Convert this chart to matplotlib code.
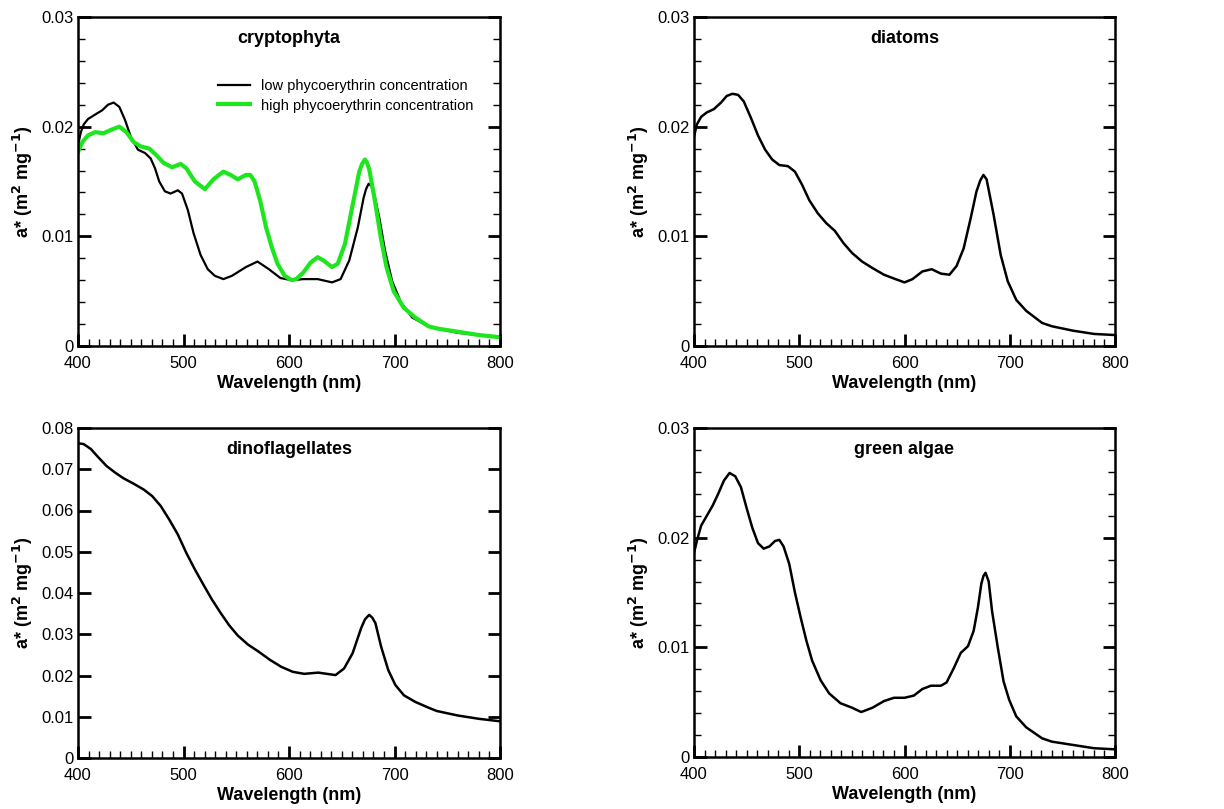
import matplotlib
matplotlib.use("Agg")
import matplotlib.pyplot as plt
from matplotlib.ticker import MultipleLocator, FuncFormatter

plt.rcParams["font.family"] = ["Liberation Sans", "DejaVu Sans"]
plt.rcParams["mathtext.default"] = "bf"

# ---------- data ----------

crypto_low_wl = [400, 402.7, 405.4, 409.5, 416.2, 423.0, 428.4, 433.8, 439.2, 444.6, 450,
                 456.8, 463.5, 468.9, 473.0, 477.0, 482.4, 487.8, 494.6, 498.6, 504.1,
                 509.5, 516.2, 523.0, 529.7, 537.8, 545.9, 559.2, 570.1, 581.0, 591.8,
                 602.7, 613.6, 627.2, 640.8, 648.9, 657.1, 665.2, 670.7, 673.0, 675.5,
                 678.0, 680.2, 685.6, 691.0, 697.8, 706.0, 716.8, 732.1, 740, 760, 780, 800]
crypto_low = [0.0183, 0.0195, 0.0202, 0.0207, 0.0211, 0.0215, 0.0220, 0.0222, 0.0218, 0.0206,
              0.0191, 0.0179, 0.0176, 0.0171, 0.0162, 0.0150, 0.0141, 0.0139, 0.0142, 0.0139,
              0.0124, 0.0103, 0.0083, 0.0070, 0.0064, 0.0061, 0.0064, 0.0072, 0.0077, 0.0070,
              0.0062, 0.0060, 0.0061, 0.0061, 0.0058, 0.0061, 0.0078, 0.0108, 0.0135, 0.0143,
              0.0148, 0.0146, 0.0141, 0.0117, 0.0087, 0.0059, 0.0040, 0.0026, 0.0018, 0.0016,
              0.0012, 0.0010, 0.0008]

crypto_high_wl = [400, 404.1, 409.5, 416.2, 424.3, 431.1, 439.2, 445.9, 452.7, 459.5, 467.6,
                  474.3, 481.1, 489.2, 497.3, 502.7, 510.8, 520.3, 528.4, 537.8, 544.6,
                  551.4, 559.2, 563.3, 567.4, 572.8, 578.3, 583.7, 589.1, 595.9, 602.7,
                  606.8, 613.6, 620.4, 627.2, 632.6, 640.8, 646.2, 653.0, 659.8, 666.6,
                  669.3, 672.0, 674.0, 676.1, 681.5, 687.0, 692.4, 699.2, 708.7, 719.6,
                  732.1, 740, 760, 780, 800]
crypto_high = [0.0177, 0.0186, 0.0192, 0.0195, 0.0194, 0.0197, 0.0200, 0.0195, 0.0186, 0.0182,
               0.0180, 0.0174, 0.0167, 0.0163, 0.0166, 0.0162, 0.0150, 0.0143, 0.0152, 0.0159,
               0.0156, 0.0152, 0.0156, 0.0156, 0.0150, 0.0132, 0.0108, 0.0090, 0.0075, 0.0064,
               0.0060, 0.0061, 0.0067, 0.0076, 0.0081, 0.0078, 0.0072, 0.0075, 0.0093, 0.0126,
               0.0159, 0.0166, 0.0170, 0.0167, 0.0161, 0.0132, 0.0099, 0.0072, 0.0050, 0.0035,
               0.0026, 0.0018, 0.0016, 0.0013, 0.0010, 0.0008]

diatom_wl = [400, 402.7, 406.8, 412.2, 418.9, 425.7, 431.1, 436.5, 441.9, 447.3, 454.1,
             460.8, 467.6, 474.3, 481.1, 489.2, 495.9, 502.7, 509.5, 517.6, 525.7, 533.8,
             541.9, 550, 559.7, 569.7, 580.5, 591.4, 600, 607.6, 617.0, 625.9, 634.6, 642.7,
             649.5, 656.2, 663.0, 668.4, 672, 675, 678, 684.6, 691.4, 698.1, 706.2, 715.7,
             730.8, 740, 760, 780, 800]
diatom = [0.0191, 0.0202, 0.0209, 0.0213, 0.0216, 0.0222, 0.0228, 0.0230, 0.0229, 0.0223,
          0.0208, 0.0192, 0.0179, 0.0170, 0.0165, 0.0164, 0.0159, 0.0147, 0.0133, 0.0121,
          0.0112, 0.0105, 0.0094, 0.0085, 0.0077, 0.0071, 0.0065, 0.0061, 0.0058, 0.0061,
          0.0068, 0.0070, 0.0066, 0.0065, 0.0073, 0.0089, 0.0117, 0.0141, 0.0151, 0.0156,
          0.0152, 0.0120, 0.0083, 0.0059, 0.0042, 0.0032, 0.0021, 0.0018, 0.0014, 0.0011,
          0.0010]

dino_wl = [400, 405.4, 412.2, 418.9, 427.0, 435.1, 443.2, 452.7, 462.2, 470.3, 478.4, 486.5,
           494.6, 502.7, 510.8, 518.9, 527.0, 535.1, 543.2, 551.4, 561.1, 571.1, 581.9,
           592.7, 603.5, 614.3, 627.8, 635.9, 644.1, 652.2, 660.3, 668.4, 672, 676, 679,
           681.9, 687.3, 694.1, 700.8, 708.9, 719.7, 732.2, 740, 760, 780, 800]
dino = [0.0763, 0.0761, 0.0749, 0.0730, 0.0708, 0.0692, 0.0678, 0.0665, 0.0651, 0.0635,
        0.0611, 0.0578, 0.0542, 0.0497, 0.0457, 0.0420, 0.0384, 0.0352, 0.0322, 0.0297,
        0.0275, 0.0258, 0.0238, 0.0221, 0.0209, 0.0204, 0.0207, 0.0204, 0.0201, 0.0217,
        0.0254, 0.0315, 0.0336, 0.0347, 0.0340, 0.0327, 0.0270, 0.0213, 0.0177, 0.0152,
        0.0136, 0.0122, 0.0114, 0.0103, 0.0095, 0.0089]

green_wl = [400, 402.7, 406.8, 412.2, 417.6, 423.0, 428.4, 433.8, 439.2, 444.6, 450, 455.4,
            460.8, 466.2, 471.6, 477.0, 481.1, 485.1, 490.5, 495.9, 501.4, 506.8, 512.2,
            520.3, 528.4, 539.2, 550, 558.9, 569.7, 580.5, 590, 600, 608.9, 617.0, 625.1,
            634.6, 640, 646.8, 653.5, 660.3, 665.7, 669.7, 673, 675, 677, 680, 683.2, 688.6,
            694.1, 699.5, 706.2, 715.7, 730.8, 740, 760, 780, 800]
green = [0.0186, 0.0197, 0.0211, 0.0220, 0.0229, 0.0240, 0.0252, 0.0259, 0.0256, 0.0246,
         0.0227, 0.0209, 0.0195, 0.0190, 0.0192, 0.0197, 0.0198, 0.0192, 0.0176, 0.0150,
         0.0127, 0.0106, 0.0088, 0.0070, 0.0058, 0.0049, 0.0045, 0.0041, 0.0045, 0.0051,
         0.0054, 0.0054, 0.0056, 0.0062, 0.0065, 0.0065, 0.0068, 0.0081, 0.0095, 0.0101,
         0.0115, 0.0136, 0.0158, 0.0165, 0.0168, 0.0160, 0.0133, 0.0100, 0.0069, 0.0052,
         0.0037, 0.0027, 0.0017, 0.0014, 0.0011, 0.0008, 0.0007]

titles = ["cryptophyta", "diatoms", "dinoflagellates", "green algae"]
legend_labels = ["low phycoerythrin concentration", "high phycoerythrin concentration"]

# ---------- layout ----------

fig = plt.figure(figsize=(12.24, 8.09), dpi=100)
W, H = 1224, 809


def _axes(l, t, r, b):
    return fig.add_axes([l / W, 1 - b / H, (r - l) / W, (b - t) / H])


def _fmt(v, _pos):
    return "0" if abs(v) < 1e-9 else f"{v:.2f}"


def _style(ax, ymax, ymajor, yminor, title):
    ax.set_xlim(400, 800)
    ax.set_ylim(0, ymax)
    ax.xaxis.set_major_locator(MultipleLocator(100))
    ax.xaxis.set_minor_locator(MultipleLocator(10))
    ax.yaxis.set_major_locator(MultipleLocator(ymajor))
    if yminor:
        ax.yaxis.set_minor_locator(MultipleLocator(yminor))
    ax.yaxis.set_major_formatter(FuncFormatter(_fmt))
    ax.tick_params(which="both", direction="in", top=False, right=True, labelsize=12)
    ax.tick_params(axis="x", which="both", pad=7)
    ax.tick_params(axis="y", which="both", pad=3)
    ax.tick_params(which="major", length=9, width=2)
    ax.tick_params(which="minor", length=5, width=1)
    for s in ax.spines.values():
        s.set_linewidth(1.8)
    ax.set_xlabel("Wavelength (nm)", fontsize=13, fontweight="bold", labelpad=3)
    ax.set_ylabel(r"a* (m$^\mathbf{2}$ mg$^\mathbf{-1}$)", fontsize=13, fontweight="bold",
                  labelpad=5)
    ax.text(0.5, 0.935, title, transform=ax.transAxes, ha="center", va="center",
            fontsize=13, fontweight="bold")


ax1 = _axes(78, 17, 500, 346)
ax1.plot(crypto_low_wl, crypto_low, color="black", lw=1.6, label=legend_labels[0])
ax1.plot(crypto_high_wl, crypto_high, color="#1ee61e", lw=3, label=legend_labels[1])
_style(ax1, 0.03, 0.01, 0.002, titles[0])
ax1.legend(loc="upper left", bbox_to_anchor=(0.30, 0.85), frameon=False, fontsize=10.5,
           handlelength=2.2, handletextpad=0.8, labelspacing=0.35)

ax2 = _axes(694, 17, 1115, 346)
ax2.plot(diatom_wl, diatom, color="black", lw=1.8)
_style(ax2, 0.03, 0.01, 0.002, titles[1])

ax3 = _axes(78, 428, 500, 758)
ax3.plot(dino_wl, dino, color="black", lw=1.8)
_style(ax3, 0.08, 0.01, None, titles[2])

ax4 = _axes(694, 428, 1115, 757)
ax4.plot(green_wl, green, color="black", lw=1.8)
_style(ax4, 0.03, 0.01, 0.002, titles[3])

fig.savefig("out.png", dpi=100)
